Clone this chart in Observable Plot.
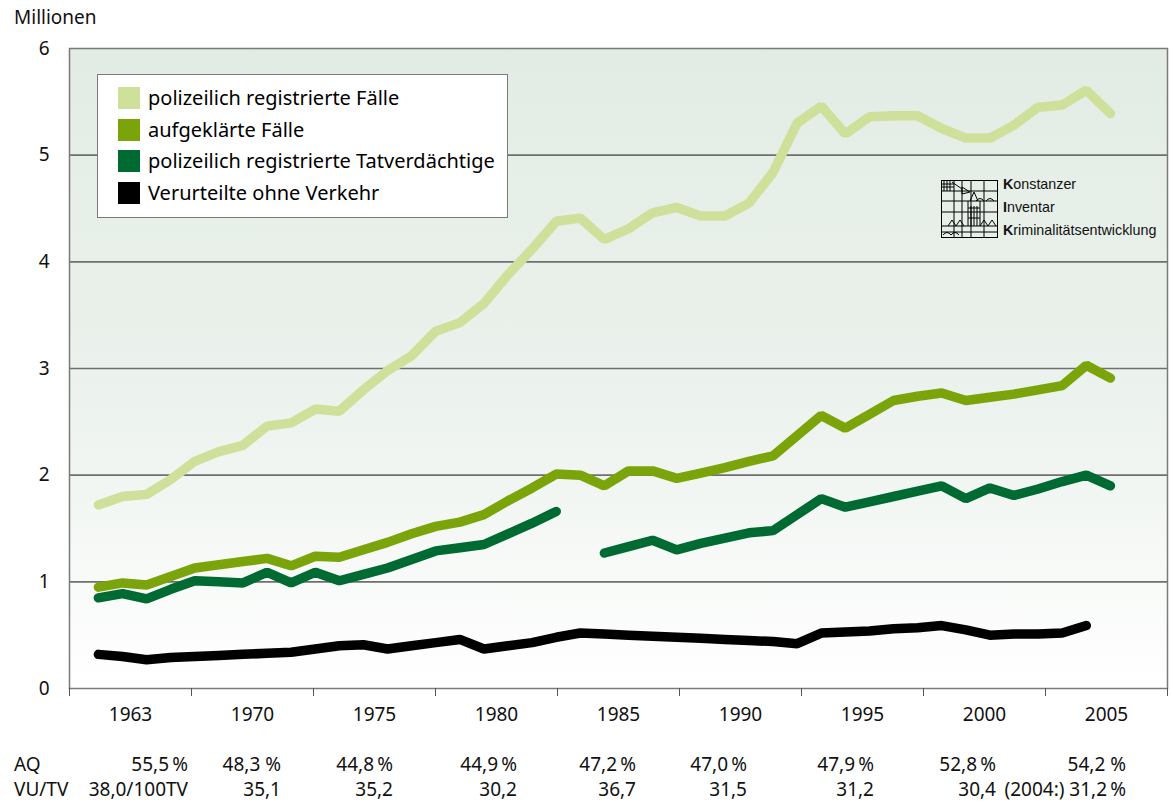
<!DOCTYPE html>
<html>
<head>
<meta charset="utf-8">
<script src="https://cdn.jsdelivr.net/npm/d3@7"></script>
<script src="https://cdn.jsdelivr.net/npm/@observablehq/plot@0.6"></script>
<style>
  html, body { margin: 0; padding: 0; background: #fff; }
  #wrap { position: relative; width: 1171px; height: 805px; font-family: "Noto Sans", "Open Sans", sans-serif; color: #111; }
  #wrap svg { position: absolute; left: 0; top: 0; }
  .abs { position: absolute; white-space: nowrap; }
  #ylabel { left: 14px; top: 4px; font-size: 19px; }
  #legend { left: 97px; top: 74px; width: 409px; height: 142px; background: #fff; border: 1.5px solid #7a7a7a; }
  .li { position: absolute; left: 20px; font-size: 20px; line-height: 22px; color: #000; }
  .sw { display: inline-block; width: 22px; height: 22px; vertical-align: top; margin-right: 8px; }
  #kik { left: 940px; top: 178px; }
  .kt { position: absolute; left: 1003px; font-family: "Liberation Sans", Arial, sans-serif; font-size: 14.3px; line-height: 16px; }
  .row { position: absolute; font-size: 19px; line-height: 22px; }
</style>
</head>
<body>
<div id="wrap"></div>
<script>
// ---------- data ----------
const years = [1963,1964,1965,1966,1967,1968,1969,1970,1971,1972,1973,1974,1975,1976,1977,1978,1979,1980,1981,1982,1983,1984,1985,1986,1987,1988,1989,1990,1991,1992,1993,1994,1995,1996,1997,1998,1999,2000,2001,2002,2003,2004,2005];

const registrierteFaelle = [1.72,1.80,1.82,1.96,2.13,2.22,2.28,2.46,2.49,2.62,2.60,2.80,2.98,3.12,3.35,3.43,3.61,3.88,4.12,4.38,4.41,4.21,4.31,4.46,4.51,4.43,4.43,4.55,4.84,5.30,5.46,5.20,5.36,5.37,5.37,5.25,5.16,5.16,5.28,5.45,5.47,5.61,5.39];
const aufgeklaerteFaelle = [0.95,0.99,0.97,1.05,1.13,1.16,1.19,1.22,1.15,1.24,1.23,1.30,1.37,1.45,1.52,1.56,1.63,1.76,1.88,2.01,2.00,1.90,2.04,2.04,1.97,2.02,2.07,2.13,2.18,2.37,2.56,2.44,2.57,2.70,2.74,2.77,2.70,2.73,2.76,2.80,2.84,3.03,2.91];
const tatverdaechtige = [0.85,0.89,0.84,0.93,1.01,1.00,0.99,1.09,0.99,1.09,1.01,1.07,1.13,1.21,1.29,1.32,1.35,1.45,1.55,1.66,null,1.27,1.33,1.39,1.30,1.36,1.41,1.46,1.48,1.63,1.78,1.70,1.75,1.80,1.85,1.90,1.78,1.88,1.81,1.87,1.94,2.00,1.90];
const verurteilte = [0.32,0.30,0.27,0.29,0.30,0.31,0.32,0.33,0.34,0.37,0.40,0.41,0.37,0.40,0.43,0.46,0.37,0.40,0.43,0.48,0.52,0.51,0.50,0.49,0.48,0.47,0.46,0.45,0.44,0.42,0.52,0.53,0.54,0.56,0.57,0.59,0.55,0.50,0.51,0.51,0.52,0.59,null];

const seriesNames = ["polizeilich registrierte Fälle", "aufgeklärte Fälle", "polizeilich registrierte Tatverdächtige", "Verurteilte ohne Verkehr"];
const seriesValues = [registrierteFaelle, aufgeklaerteFaelle, tatverdaechtige, verurteilte];
const seriesColors = ["#cfe09a", "#7ba40b", "#006a33", "#000000"];

const yTicks = [0, 1, 2, 3, 4, 5, 6];
const xTickLabels = ["1963", "1970", "1975", "1980", "1985", "1990", "1995", "2000", "2005"];
const aqLabels = ["55,5\u2009%", "48,3 %", "44,8\u2009%", "44,9\u2009%", "47,2\u2009%", "47,0\u2009%", "47,9\u2009%", "52,8\u2009%", "54,2 %"];
const vuLabels = ["38,0/100TV", "35,1", "35,2", "30,2", "36,7", "31,5", "31,2", "30,4", "(2004:) 31,2\u2009%"];

// ---------- layout ----------
const W = 1171, H = 745;
const xDomain = [1961.8, 2007.37];
const nBands = xTickLabels.length;
const bandEdges = d3.range(nBands + 1).map(i => xDomain[0] + i * (xDomain[1] - xDomain[0]) / nBands);
const bandCenters = xTickLabels.map((label, i) => ({x: (bandEdges[i] + bandEdges[i + 1]) / 2, label}));
const tableNudge = [-3, -32, -42, -40, -43, -54, -49, -49, -41]; // right-edge offset from band end (px)

const rows = [];
seriesNames.forEach((name, s) => {
  years.forEach((yr, i) => rows.push({series: name, year: yr, value: seriesValues[s][i]}));
});

const plot = Plot.plot({
  width: W,
  height: H,
  marginTop: 48,
  marginLeft: 69,
  marginRight: 4,
  marginBottom: H - 688,
  style: {fontFamily: '"Noto Sans", "Open Sans", sans-serif', fontSize: "19px", color: "#111", background: "transparent"},
  x: {domain: xDomain, axis: null},
  y: {domain: [0, 6], axis: null},
  color: {domain: seriesNames, range: seriesColors},
  marks: [
    Plot.frame({fill: "url(#bg)", stroke: "none"}),
    Plot.gridY([1, 2, 3, 4, 5], {stroke: "#6f6f6f", strokeOpacity: 1, strokeWidth: 1.6}),
    Plot.frame({stroke: "#7a7a7a", strokeWidth: 1.5}),
    Plot.axisY(yTicks, {tickSize: 0, tickPadding: 20, fontSize: 19, tickFormat: d3.format("d"), label: null}),
    Plot.axisX(bandEdges, {tickSize: 8, tickFormat: () => "", stroke: "#555", label: null}),
    Plot.text(bandCenters, {x: "x", text: "label", frameAnchor: "bottom", dy: 32, fontSize: 19}),
    Plot.line(rows, {x: "year", y: "value", z: "series", stroke: "series", strokeWidth: 9.5, strokeLinecap: "round", strokeLinejoin: "miter"})
  ]
});

// gradient background
const svg = d3.select(plot);
const defs = svg.insert("defs", ":first-child");
const g = defs.append("linearGradient").attr("id", "bg").attr("x1", 0).attr("y1", 0).attr("x2", 0).attr("y2", 1);
g.append("stop").attr("offset", "0%").attr("stop-color", "#e2ece4");
g.append("stop").attr("offset", "55%").attr("stop-color", "#ecf2ed");
g.append("stop").attr("offset", "100%").attr("stop-color", "#ffffff");

const wrap = document.getElementById("wrap");
wrap.appendChild(plot);

// y label
const yl = document.createElement("div");
yl.className = "abs"; yl.id = "ylabel"; yl.textContent = "Millionen";
wrap.appendChild(yl);

// legend
const leg = document.createElement("div");
leg.className = "abs"; leg.id = "legend";
seriesNames.forEach((name, i) => {
  const it = document.createElement("div");
  it.className = "li";
  it.style.top = (12 + i * 31.7) + "px";
  it.innerHTML = `<span class="sw" style="background:${seriesColors[i]}"></span><span>${name}</span>`;
  leg.appendChild(it);
});
wrap.appendChild(leg);

// KIK logo
const logo = document.createElement("div");
logo.className = "abs"; logo.id = "kik";
logo.innerHTML = `<svg width="60" height="62" viewBox="0 0 60 62">
 <g fill="none" stroke="#000" stroke-width="1">
  <rect x="1.5" y="2.5" width="56" height="57"/>
  <line x1="14" y1="2.5" x2="14" y2="59.5"/><line x1="22" y1="2.5" x2="22" y2="59.5"/>
  <line x1="31" y1="2.5" x2="31" y2="59.5"/><line x1="44" y1="2.5" x2="44" y2="59.5"/>
  <line x1="1.5" y1="13" x2="57.5" y2="13"/><line x1="1.5" y1="23" x2="57.5" y2="23"/>
  <line x1="1.5" y1="34" x2="57.5" y2="34"/><line x1="1.5" y1="48" x2="57.5" y2="48"/>
  <line x1="1.5" y1="54" x2="57.5" y2="54"/>
  <line x1="4" y1="2.5" x2="4" y2="13"/><line x1="7" y1="2.5" x2="7" y2="13"/><line x1="10" y1="2.5" x2="10" y2="13"/>
  <line x1="1.5" y1="6" x2="14" y2="6"/><line x1="1.5" y1="9" x2="14" y2="9"/>
  <path d="M12 4 L22 11 M22 9 L30 14 L22 16 Z"/>
  <path d="M30 23 L34 14 L38 23 M28 23 V48 M40 23 V48 M31 28 V48 M34 28 V48 M37 28 V48 M28 30 H40 M28 40 H40"/>
  <path d="M8 48 L12 42 L16 48 L20 42 L24 48 M40 48 L44 42 L48 48 L52 42 L56 48 M3 57 Q7 52 11 57 Q15 52 19 57"/>
  <path d="M36 23 Q40 18 44 23 M46 23 Q50 18 54 23"/>
 </g></svg>`;
wrap.appendChild(logo);
[["K", "onstanzer", 176], ["I", "nventar", 199], ["K", "riminalitätsentwicklung", 222]].forEach(([b, rest, top]) => {
  const d = document.createElement("div");
  d.className = "kt"; d.style.top = top + "px";
  d.innerHTML = `<b>${b}</b>${rest}`;
  wrap.appendChild(d);
});

// bottom table
const xs = plot.scale("x");
function addRow(label, values, top) {
  const l = document.createElement("div");
  l.className = "row"; l.style.left = "14px"; l.style.top = top + "px"; l.textContent = label;
  wrap.appendChild(l);
  values.forEach((v, i) => {
    const d = document.createElement("div");
    d.className = "row";
    const right = xs.apply(bandEdges[i + 1]) + tableNudge[i];
    d.style.right = (W - right) + "px";
    d.style.top = top + "px";
    d.textContent = v;
    wrap.appendChild(d);
  });
}
addRow("AQ", aqLabels, 753);
addRow("VU/TV", vuLabels, 778);
</script>
</body>
</html>
